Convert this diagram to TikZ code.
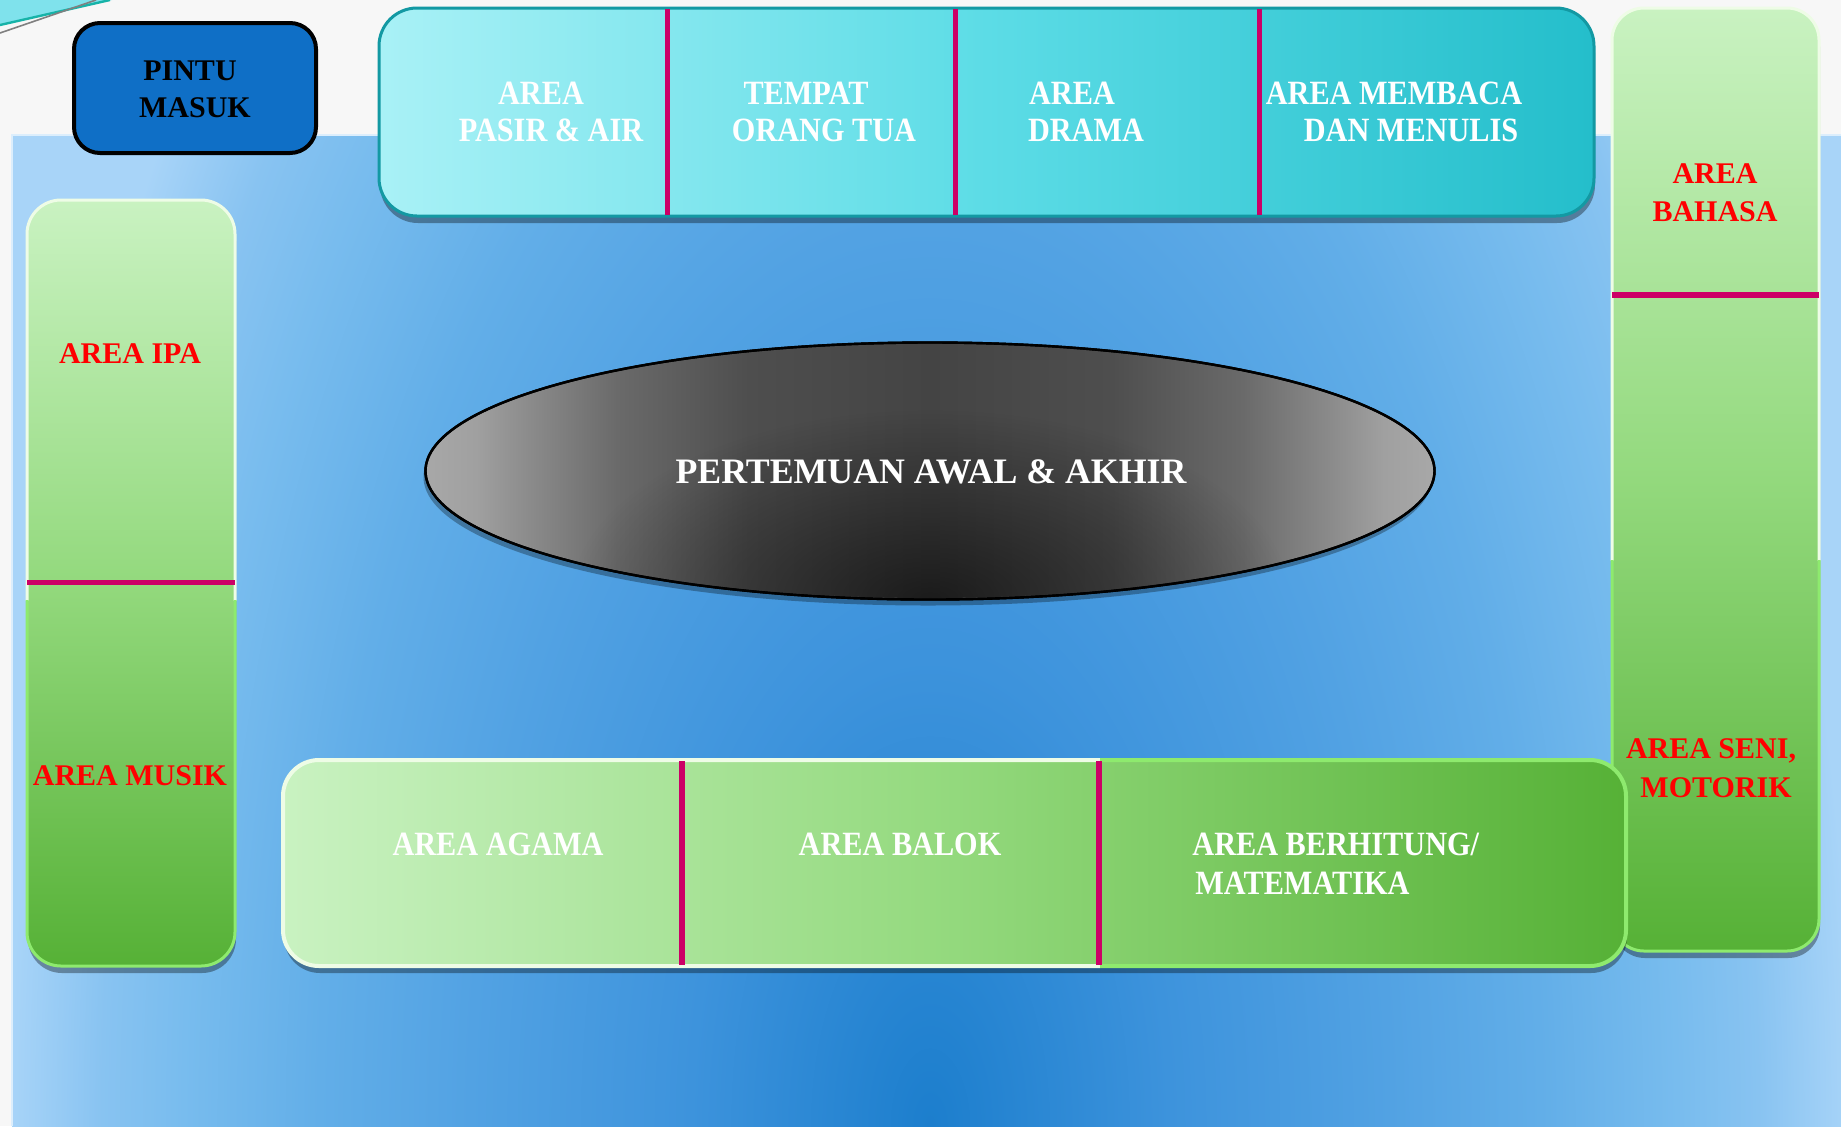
\documentclass[tikz,border=0pt]{standalone}
\usepackage{fontspec}
\setmainfont{Liberation Serif}
\newfontfamily\condfont[FakeStretch=0.89]{Liberation Serif}
\usetikzlibrary{shapes.geometric,shadows,fadings}

\definecolor{magline}{HTML}{CC0066}
\definecolor{bg0}{HTML}{1C7ECD}
\definecolor{bg1}{HTML}{3D93DC}
\definecolor{bg2}{HTML}{52A2E3}
\definecolor{bg3}{HTML}{62AEE8}
\definecolor{bg4}{HTML}{78BCEE}
\definecolor{bg5}{HTML}{88C3F1}
\definecolor{bg6}{HTML}{A8D4F8}
\definecolor{tealL}{HTML}{A9F1F6}
\definecolor{tealM}{HTML}{5CDCE6}
\definecolor{tealR}{HTML}{24BECB}
\definecolor{tealBorder}{HTML}{1399A3}
\definecolor{grnL}{HTML}{C9F2C1}
\definecolor{grnM}{HTML}{93D97D}
\definecolor{grnD}{HTML}{56B136}
\definecolor{grnBorder}{HTML}{8EEA6E}
\definecolor{grnEdge}{HTML}{EEFCE6}
\definecolor{doorblue}{HTML}{0F6FC6}
\definecolor{areared}{HTML}{FF0000}
\definecolor{ellL}{HTML}{A8A8A8}
\definecolor{ellK}{HTML}{A0A0A0}
\definecolor{ellQ}{HTML}{8C8C8C}
\definecolor{ellR}{HTML}{6A6A6A}
\definecolor{ellS}{HTML}{4E4E4E}
\definecolor{ellM}{HTML}{444444}
\definecolor{swooshC}{HTML}{7FE2EC}
\definecolor{swooshT}{HTML}{17B3A8}

% the path's bounding box maps onto the central 25bp..75bp of a shading
\pgfdeclareradialshading{bgshade}{\pgfpoint{0bp}{0bp}}{%
  color(0bp)=(bg0); color(6.5bp)=(bg1); color(12.5bp)=(bg2); color(16.6bp)=(bg3);
  color(20.3bp)=(bg4); color(22.5bp)=(bg5); color(25bp)=(bg6); color(50bp)=(bg6)}
\pgfdeclarehorizontalshading{ellshade}{100bp}{%
  color(0bp)=(ellL); color(25bp)=(ellL); color(27.5bp)=(ellK); color(30bp)=(ellQ);
  color(34.5bp)=(ellR); color(41bp)=(ellS); color(50bp)=(ellM); color(59bp)=(ellS);
  color(65.5bp)=(ellR); color(70bp)=(ellQ); color(72.5bp)=(ellK); color(75bp)=(ellL); color(100bp)=(ellL)}
\tikzfading[name=ellrad, inner color=transparent!40, outer color=transparent!100]

\begin{document}
\begin{tikzpicture}[x=0.5pt,y=-0.5pt,
  divider/.style={draw=magline, line width=2.5pt},
  wtext/.style={text=white, font=\condfont\bfseries\fontsize{17}{20}\selectfont, inner sep=0pt, anchor=base},
  rtext/.style={text=areared, font=\bfseries\fontsize{15}{18}\selectfont, inner sep=0pt, anchor=base},
  btext/.style={text=black, font=\bfseries\fontsize{15}{18}\selectfont, inner sep=0pt, anchor=base},
  boxshadow/.style={drop shadow={shadow xshift=0.5pt, shadow yshift=-3.5pt, opacity=0.35, fill=black}},
  grncol/.style={top color=grnL, bottom color=grnD, middle color=grnM},
]
\useasboundingbox (0,0) rectangle (1841,1126);
% page background
\fill[white!97!black] (0,0) rectangle (1841,1126);
% corner swoosh
\fill[swooshC] (0,0) -- (112,0) -- (0,24) -- cycle;
\draw[swooshT, line width=1.2pt] (0,25) -- (110,0);
\draw[gray, line width=0.8pt] (0,33) -- (96,0);
% blue panel
\begin{scope}
  \clip (12,135) rectangle (1841,1126);
  \shade[shading=bgshade] (10,-674) rectangle (1850,2926);
\end{scope}
\draw[white!60!bg6, line width=1pt] (12,1126) -- (12,135) -- (1841,135);

% right column
\path[boxshadow, grncol, rounded corners=16pt] (1612,8) rectangle (1819,951);
\begin{scope}
  \clip (1590,0) rectangle (1841,560);
  \draw[grnEdge, line width=1.5pt, rounded corners=16pt] (1612,8) rectangle (1819,951);
\end{scope}
\begin{scope}
  \clip (1590,560) rectangle (1841,1000);
  \draw[grnBorder, line width=1.5pt, rounded corners=16pt] (1612,8) rectangle (1819,951);
\end{scope}
\draw[divider, line width=3pt] (1612,295) -- (1819,295);

% top band
\path[boxshadow, left color=tealL, right color=tealR, middle color=tealM,
      draw=tealBorder, line width=1.5pt, rounded corners=19pt] (379,8) rectangle (1594,216);
\draw[divider] (667,9) -- (667,215);
\draw[divider] (955,9) -- (955,215);
\draw[divider] (1259,9) -- (1259,215);

% left column
\path[boxshadow, grncol, rounded corners=17pt] (27,200) rectangle (235,966);
\begin{scope}
  \clip (0,150) rectangle (260,600);
  \draw[grnEdge, line width=1.5pt, rounded corners=17pt] (27,200) rectangle (235,966);
\end{scope}
\begin{scope}
  \clip (0,600) rectangle (260,1000);
  \draw[grnBorder, line width=1.5pt, rounded corners=17pt] (27,200) rectangle (235,966);
\end{scope}
\draw[divider] (27,582) -- (235,582);

% bottom band
\path[boxshadow, left color=grnL, right color=grnD, middle color=grnM, rounded corners=18pt]
  (283,760) rectangle (1626,966);
\begin{scope}
  \clip (260,740) rectangle (1100,1000);
  \draw[grnEdge, line width=2pt, rounded corners=18pt] (283,760) rectangle (1626,966);
\end{scope}
\begin{scope}
  \clip (1100,740) rectangle (1660,1000);
  \draw[grnBorder, line width=2pt, rounded corners=18pt] (283,760) rectangle (1626,966);
\end{scope}
\draw[divider, line width=3pt] (682,761) -- (682,965);
\draw[divider, line width=3pt] (1099,761) -- (1099,965);

% entrance
\path[draw=black, line width=2pt, fill=doorblue, rounded corners=13pt] (74,23) rectangle (316,153);
\node[btext] (pintu) at (190,80) {PINTU};
\node[btext] (masuk) at (195,117) {MASUK};

% central ellipse
\node[ellipse, shading=ellshade, draw=black, line width=1.2pt, inner sep=0pt,
      minimum width=504.5pt, minimum height=128.5pt,
      drop shadow={shadow xshift=-1pt, shadow yshift=-3pt, opacity=0.3, fill=black}]
      (meet) at (930,471) {};
\begin{scope}
  \clip (meet.center) ellipse [x radius=251.5pt, y radius=63.5pt];
  \fill[black, path fading=ellrad] (930,600) ellipse [x radius=180pt, y radius=95pt];
\end{scope}
\draw[black, line width=1.2pt] (meet.center) ellipse [x radius=252.25pt, y radius=64.25pt];
\node[text=white, font=\bfseries\fontsize{17.9}{20}\selectfont, inner sep=0pt, anchor=base]
  (meettext) at (931,483) {PERTEMUAN AWAL \& AKHIR};

% top band labels
\node[wtext] (pasirA) at (541,104) {AREA};
\node[wtext] (pasirB) at (551,141) {PASIR \& AIR};
\node[wtext] (tempatA) at (806,104) {TEMPAT};
\node[wtext] (tempatB) at (824,141) {ORANG TUA};
\node[wtext] (dramaA) at (1072,104) {AREA};
\node[wtext] (dramaB) at (1086,141) {DRAMA};
\node[wtext] (bacaA) at (1394,104) {AREA MEMBACA};
\node[wtext] (bacaB) at (1411,141) {DAN MENULIS};

% bottom band labels
\node[wtext] (agama) at (498,855) {AREA AGAMA};
\node[wtext] (balok) at (900,855) {AREA BALOK};
\node[wtext, anchor=base west] (hitungA) at (1192,855) {AREA BERHITUNG/};
\node[wtext, anchor=base west] (hitungB) at (1195,894) {MATEMATIKA};

% column labels
\node[rtext] (ipa) at (130,363) {AREA IPA};
\node[rtext] (musik) at (130,785) {AREA MUSIK};
\node[rtext] (bahasaA) at (1715,183) {AREA};
\node[rtext] (bahasaB) at (1715,221) {BAHASA};
\node[rtext] (seniA) at (1711,758) {AREA SENI,};
\node[rtext] (seniB) at (1716,797) {MOTORIK};
\end{tikzpicture}
\end{document}
